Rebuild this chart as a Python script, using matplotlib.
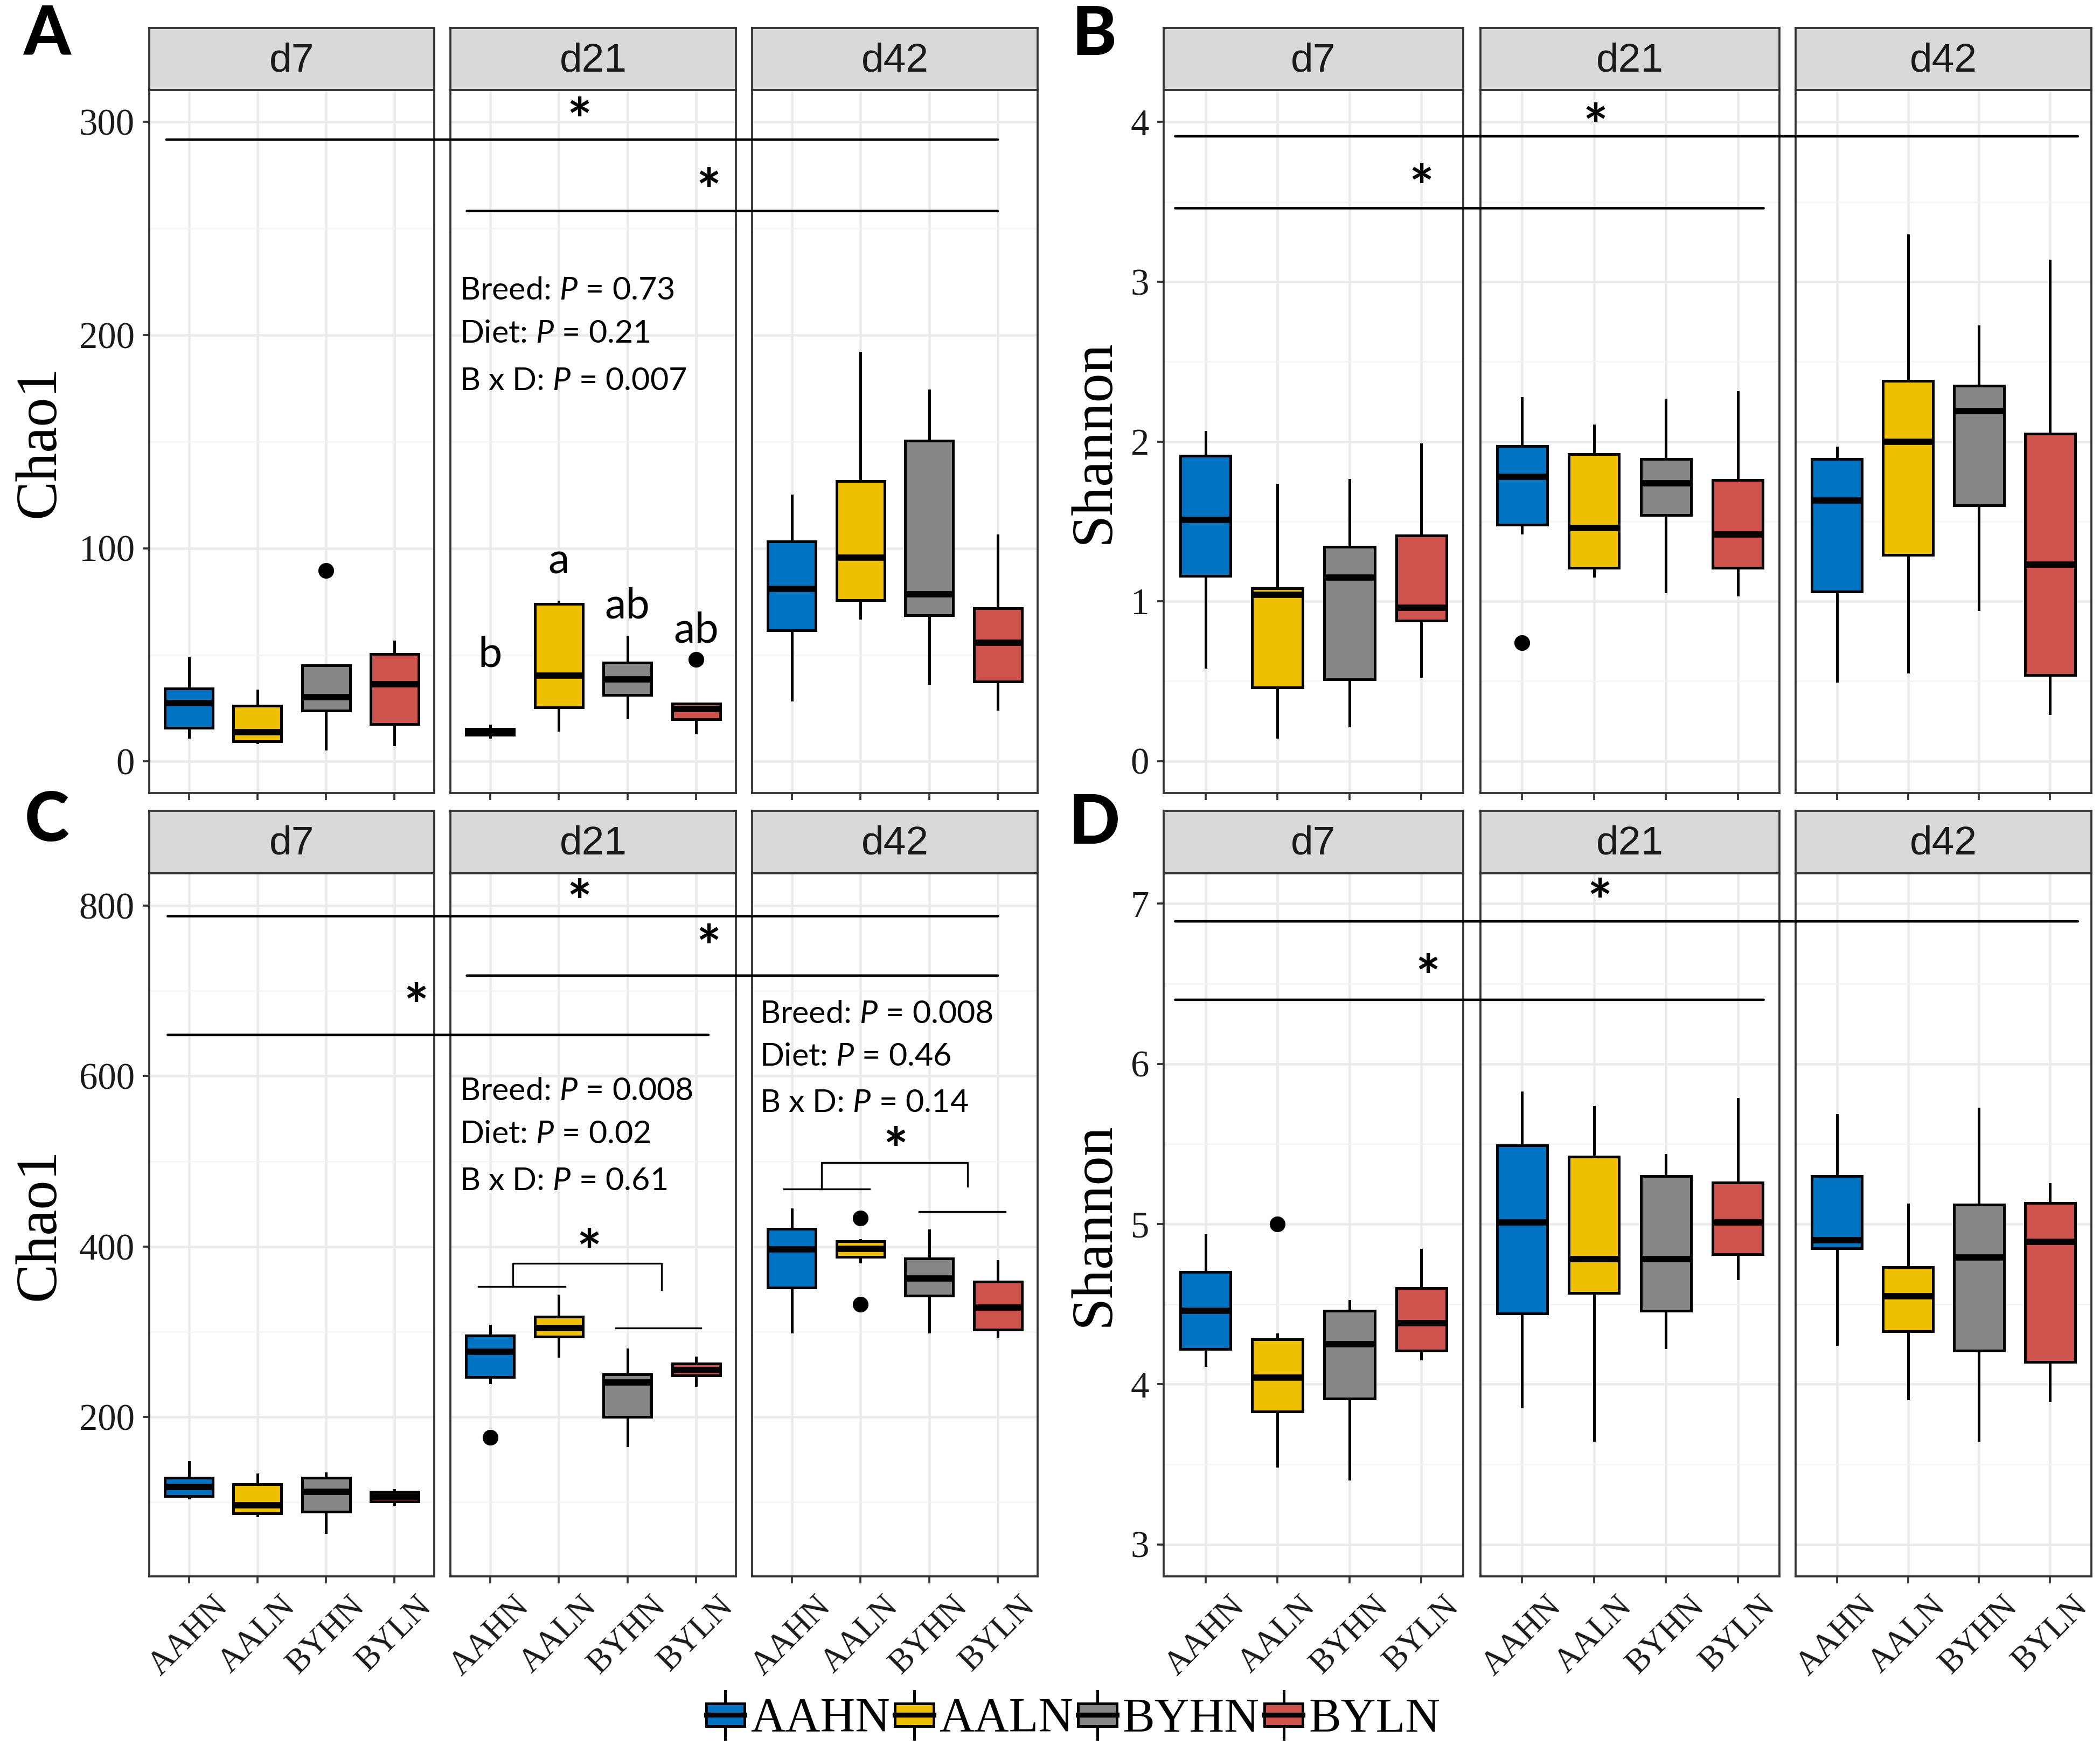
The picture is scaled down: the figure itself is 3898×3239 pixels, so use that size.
import matplotlib
matplotlib.use('Agg')
import matplotlib.pyplot as plt
from matplotlib.patches import ConnectionPatch, Rectangle
from matplotlib.lines import Line2D
from matplotlib.legend_handler import HandlerBase
from matplotlib.ticker import MultipleLocator

groups = ['AAHN', 'AALN', 'BYHN', 'BYLN']
days = ['d7', 'd21', 'd42']
colors = ['#0073C2', '#EFC000', '#868686', '#CD534C']

# box statistics, rows = d7, d21, d42 ; cols = groups
# A: Chao1 (first set)
a_low = [[11.4, 9.0, 5.8, 8.0], [11.4, 14.8, 20.6, 13.4], [28.9, 67.3, 36.7, 24.5]]
a_q1 = [[15.8, 9.5, 23.8, 17.5], [12.4, 25.5, 31.1, 19.9], [61.5, 75.8, 68.5, 37.4]]
a_med = [[27.4, 13.8, 30.1, 36.2], [13.8, 40.3, 38.6, 24.5], [80.9, 95.7, 78.5, 55.6]]
a_q3 = [[34.2, 26.2, 45.2, 50.3], [15.3, 73.8, 46.4, 27.2], [103.2, 131.4, 150.4, 71.9]]
a_high = [[48.3, 33.3, 45.2, 56.1], [16.8, 75.0, 58.5, 27.2], [124.8, 191.6, 173.9, 106.1]]
a_out = [(0, 2, 89.6), (1, 3, 47.9)]

# B: Shannon (first set)
b_low = [[0.59, 0.15, 0.22, 0.53], [1.43, 1.16, 1.06, 1.04], [0.50, 0.56, 0.95, 0.30]]
b_q1 = [[1.16, 0.46, 0.51, 0.88], [1.48, 1.21, 1.54, 1.21], [1.06, 1.29, 1.60, 0.54]]
b_med = [[1.51, 1.04, 1.15, 0.96], [1.78, 1.46, 1.74, 1.42], [1.63, 2.00, 2.19, 1.23]]
b_q3 = [[1.91, 1.08, 1.34, 1.41], [1.97, 1.92, 1.89, 1.76], [1.89, 2.38, 2.35, 2.05]]
b_high = [[2.06, 1.73, 1.76, 1.98], [2.27, 2.10, 2.26, 2.31], [1.96, 3.29, 2.72, 3.13]]
b_out = [(1, 0, 0.74)]

# C: Chao1 (second set)
c_low = [[105, 84.6, 65, 97.7], [240.6, 271.8, 166.6, 237.7], [300.1, 382, 300.1, 295]]
c_q1 = [[107.1, 86.8, 89, 100.6], [247.2, 294.3, 200, 248.6], [351.6, 387.9, 342.2, 302.3]]
c_med = [[118, 96.3, 112.2, 106.4], [276.9, 304.5, 240.6, 255], [396.6, 397.3, 362.5, 328.4]]
c_q3 = [[128.9, 120.9, 128.9, 112.2], [295.8, 317.5, 250, 263], [420.6, 406, 385.7, 358.9]]
c_high = [[147, 132.5, 134, 114], [306.7, 342.2, 279, 269.6], [443.8, 407.5, 419, 382.8]]
c_out = [(1, 0, 176), (2, 1, 433.6), (2, 1, 332)]

# D: Shannon (second set)
d_low = [[4.12, 3.49, 3.41, 4.16], [3.86, 3.65, 4.23, 4.66], [4.25, 3.91, 3.65, 3.90]]
d_q1 = [[4.22, 3.83, 3.91, 4.21], [4.44, 4.57, 4.46, 4.81], [4.85, 4.33, 4.21, 4.14]]
d_med = [[4.46, 4.04, 4.25, 4.38], [5.01, 4.78, 4.78, 5.01], [4.90, 4.55, 4.79, 4.89]]
d_q3 = [[4.70, 4.28, 4.46, 4.60], [5.49, 5.42, 5.30, 5.26], [5.30, 4.73, 5.12, 5.13]]
d_high = [[4.93, 4.31, 4.52, 4.84], [5.82, 5.73, 5.43, 5.78], [5.68, 5.12, 5.72, 5.25]]
d_out = [(0, 1, 5.00)]

# significance lines: (y, panel_from, x_from, panel_to, x_to) and stars: (panel, x, y)
a_lines = [(291.7, 0, -0.33, 2, 3.0), (258.2, 1, -0.34, 2, 3.0)]
a_stars = [(1, 1.30, 299), (1, 3.18, 266)]
b_lines = [(3.91, 0, -0.42, 2, 3.39), (3.46, 0, -0.42, 1, 3.36)]
b_stars = [(1, 1.02, 3.95), (0, 3.0, 3.57)]
c_lines = [(787.7, 0, -0.31, 2, 3.0), (718, 1, -0.34, 2, 3.0), (648.4, 0, -0.31, 1, 3.18)]
c_stars = [(1, 1.30, 800), (1, 3.18, 747), (0, 3.32, 678)]
d_lines = [(6.89, 0, -0.42, 2, 3.39), (6.40, 0, -0.42, 1, 3.36)]
d_stars = [(1, 1.08, 6.99), (0, 3.09, 6.52)]

# ANOVA texts: (panel, x, [y of each line], [lines])
a_text = [(1, -0.45, [220.9, 200.6, 178.5], ['Breed: $P$ = 0.73', 'Diet: $P$ = 0.21', 'B x D: $P$ = 0.007'])]
c_text = [(1, -0.45, [582, 531.5, 477], ['Breed: $P$ = 0.008', 'Diet: $P$ = 0.02', 'B x D: $P$ = 0.61']),
          (2, -0.47, [673, 623, 568.6], ['Breed: $P$ = 0.008', 'Diet: $P$ = 0.46', 'B x D: $P$ = 0.14'])]

# letters in panel A d21
a_letters = ['b', 'a', 'ab', 'ab']
a_letter_y = [50, 93.7, 72.8, 61.4]

# brackets in panel C: (panel, left pair line, right pair line, bracket, star)
c_brackets = [
    (1, (353, -0.17, 1.09), (304.5, 1.83, 3.07), (0.33, 353, 2.5, 349.5, 380), (1.44, 390)),
    (2, (467.6, -0.12, 1.13), (440.8, 1.85, 3.11), (0.43, 467.6, 2.56, 471, 498.3), (1.51, 509)),
]

W, H = 3898, 3239
fig = plt.figure(figsize=(W / 300, H / 300), dpi=300)
fig.patch.set_facecolor('white')

plt.rcParams['mathtext.fontset'] = 'custom'
plt.rcParams['mathtext.rm'] = 'Lato'
plt.rcParams['mathtext.it'] = 'Lato:italic'

SERIF = 'Liberation Serif'
SANS = 'Liberation Sans'
NOTE = 'Lato'

left_cols = [(277, 806), (836, 1366), (1396, 1926)]
right_cols = [(2160, 2716), (2748, 3303), (3333, 3882)]
top_row = (52, 167, 1472)
bot_row = (1505, 1621, 2926)


def add_ax(x0, x1, y0, y1):
    return fig.add_axes([x0 / W, 1 - y1 / H, (x1 - x0) / W, (y1 - y0) / H])


def make_row(cols, row, ylim, yticks, minor, show_xlabels):
    axes = []
    for i, (x0, x1) in enumerate(cols):
        st = add_ax(x0, x1, row[0], row[1])
        st.set_facecolor('#D9D9D9')
        st.set_xticks([])
        st.set_yticks([])
        for s in st.spines.values():
            s.set_color('#333333')
            s.set_linewidth(0.9)
        st.text(0.5, 0.47, days[i], ha='center', va='center', fontsize=18,
                family=SANS, color='#1a1a1a', transform=st.transAxes)

        ax = add_ax(x0, x1, row[1], row[2])
        ax.set_xlim(-0.58, 3.58)
        ax.set_ylim(*ylim)
        ax.set_xticks(range(4))
        ax.set_yticks(yticks)
        ax.yaxis.set_minor_locator(MultipleLocator(minor))
        ax.set_axisbelow(True)
        ax.grid(True, which='major', color='#EBEBEB', lw=1.1)
        ax.grid(True, which='minor', axis='y', color='#F4F4F4', lw=0.6)
        ax.tick_params(which='minor', length=0)
        ax.tick_params(which='major', length=3, width=0.9, color='#333333', pad=3.5)
        for s in ax.spines.values():
            s.set_color('#333333')
            s.set_linewidth(0.9)
        if i == 0:
            ax.set_yticklabels([f'{t:g}' for t in yticks], family=SERIF, fontsize=16.5, color='#1a1a1a')
        else:
            ax.tick_params(axis='y', length=0, labelleft=False)
        if show_xlabels:
            ax.set_xticklabels(groups, rotation=45, ha='center', va='top', family=SERIF,
                               fontsize=15, color='#1a1a1a')
        else:
            ax.set_xticklabels([])
        axes.append(ax)
    return axes


def draw_boxes(axes, low, q1, med, q3, high, outs):
    for d, ax in enumerate(axes):
        stats = []
        for g in range(4):
            fl = [v for (dd, gg, v) in outs if dd == d and gg == g]
            stats.append(dict(whislo=low[d][g], q1=q1[d][g], med=med[d][g],
                              q3=q3[d][g], whishi=high[d][g], fliers=fl))
        bp = ax.bxp(stats, positions=range(4), widths=0.7, patch_artist=True,
                    showcaps=False, manage_ticks=False,
                    boxprops=dict(edgecolor='black', linewidth=1.2),
                    medianprops=dict(color='black', linewidth=2.8, solid_capstyle='butt'),
                    whiskerprops=dict(color='black', linewidth=1.2),
                    flierprops=dict(marker='o', markerfacecolor='black',
                                    markeredgecolor='black', markersize=6))
        for patch, c in zip(bp['boxes'], colors):
            patch.set_facecolor(c)


def draw_sig(axes, lines, stars):
    for (y, p0, x0, p1, x1) in lines:
        cp = ConnectionPatch(xyA=(x0, y), coordsA=axes[p0].transData,
                             xyB=(x1, y), coordsB=axes[p1].transData,
                             color='black', lw=1.1)
        fig.add_artist(cp)
    for (p, x, y) in stars:
        axes[p].text(x, y, '*', ha='center', va='center', fontsize=26,
                     family=NOTE, fontweight='bold', clip_on=False, zorder=5)


def draw_notes(axes, notes):
    for (p, x, ys, txts) in notes:
        for y, t in zip(ys, txts):
            axes[p].text(x, y, t, ha='left', va='center', fontsize=14.2,
                         family=NOTE, color='black', zorder=5)


ax_a = make_row(left_cols, top_row, (-14.8, 315), [0, 100, 200, 300], 50, False)
ax_b = make_row(right_cols, top_row, (-0.2, 4.2), [0, 1, 2, 3, 4], 0.5, False)
ax_c = make_row(left_cols, bot_row, (13, 838), [200, 400, 600, 800], 100, True)
ax_d = make_row(right_cols, bot_row, (2.80, 7.19), [3, 4, 5, 6, 7], 0.5, True)

draw_boxes(ax_a, a_low, a_q1, a_med, a_q3, a_high, a_out)
draw_boxes(ax_b, b_low, b_q1, b_med, b_q3, b_high, b_out)
draw_boxes(ax_c, c_low, c_q1, c_med, c_q3, c_high, c_out)
draw_boxes(ax_d, d_low, d_q1, d_med, d_q3, d_high, d_out)

draw_sig(ax_a, a_lines, a_stars)
draw_sig(ax_b, b_lines, b_stars)
draw_sig(ax_c, c_lines, c_stars)
draw_sig(ax_d, d_lines, d_stars)

draw_notes(ax_a, a_text)
draw_notes(ax_c, c_text)

for g, (lt, y) in enumerate(zip(a_letters, a_letter_y)):
    ax_a[1].text(g, y, lt, ha='center', va='center', fontsize=19, family=NOTE, zorder=5)

for (p, l1, l2, br, star) in c_brackets:
    ax = ax_c[p]
    ax.plot([l1[1], l1[2]], [l1[0], l1[0]], color='black', lw=0.8, clip_on=False)
    ax.plot([l2[1], l2[2]], [l2[0], l2[0]], color='black', lw=0.8, clip_on=False)
    bx0, by0, bx1, by1, btop = br
    ax.plot([bx0, bx0, bx1, bx1], [by0, btop, btop, by1], color='black', lw=0.8, clip_on=False)
    ax.text(star[0], star[1], '*', ha='center', va='center', fontsize=26,
            family=NOTE, fontweight='bold', zorder=5)

# y labels and panel letters
for (x, y, t) in [(75, 820, 'Chao1'), (2032, 820, 'Shannon'), (75, 2273, 'Chao1'), (2032, 2273, 'Shannon')]:
    fig.text(x / W, 1 - y / H, t, rotation=90, ha='center', va='center', fontsize=26, family=SERIF)
for (x, y, t) in [(87, 65, 'A'), (2031, 65, 'B'), (87, 1524, 'C'), (2031, 1529, 'D')]:
    fig.text(x / W, 1 - y / H, t, ha='center', va='center', fontsize=30, family=NOTE, fontweight='black')


class BoxHandler(HandlerBase):
    def create_artists(self, legend, orig_handle, xdescent, ydescent, width, height, fontsize, trans):
        x0, y0 = -xdescent, -ydescent
        cx = x0 + width / 2
        bh = height * 0.62
        by = y0 + (height - bh) / 2
        w1 = Line2D([cx, cx], [y0 - height * 0.15, by], color='black', lw=1.2, transform=trans)
        w2 = Line2D([cx, cx], [by + bh, y0 + height * 1.15], color='black', lw=1.2, transform=trans)
        box = Rectangle((x0, by), width, bh, facecolor=orig_handle.get_facecolor(),
                        edgecolor='black', lw=1.2, transform=trans)
        med = Line2D([x0, x0 + width], [by + bh / 2, by + bh / 2], color='black', lw=2.2, transform=trans)
        return [w1, w2, box, med]


handles = [Rectangle((0, 0), 1, 1, facecolor=c) for c in colors]
fig.legend(handles, groups, loc='center', bbox_to_anchor=(0.511, 0.0148), ncol=4, frameon=False,
           handler_map={Rectangle: BoxHandler()}, prop={'family': SERIF, 'size': 21.5},
           handlelength=0.8, handleheight=0.8, handletextpad=0.12, columnspacing=0.1,
           borderaxespad=0, borderpad=0)

fig.savefig('out.png', dpi=300, facecolor='white')
